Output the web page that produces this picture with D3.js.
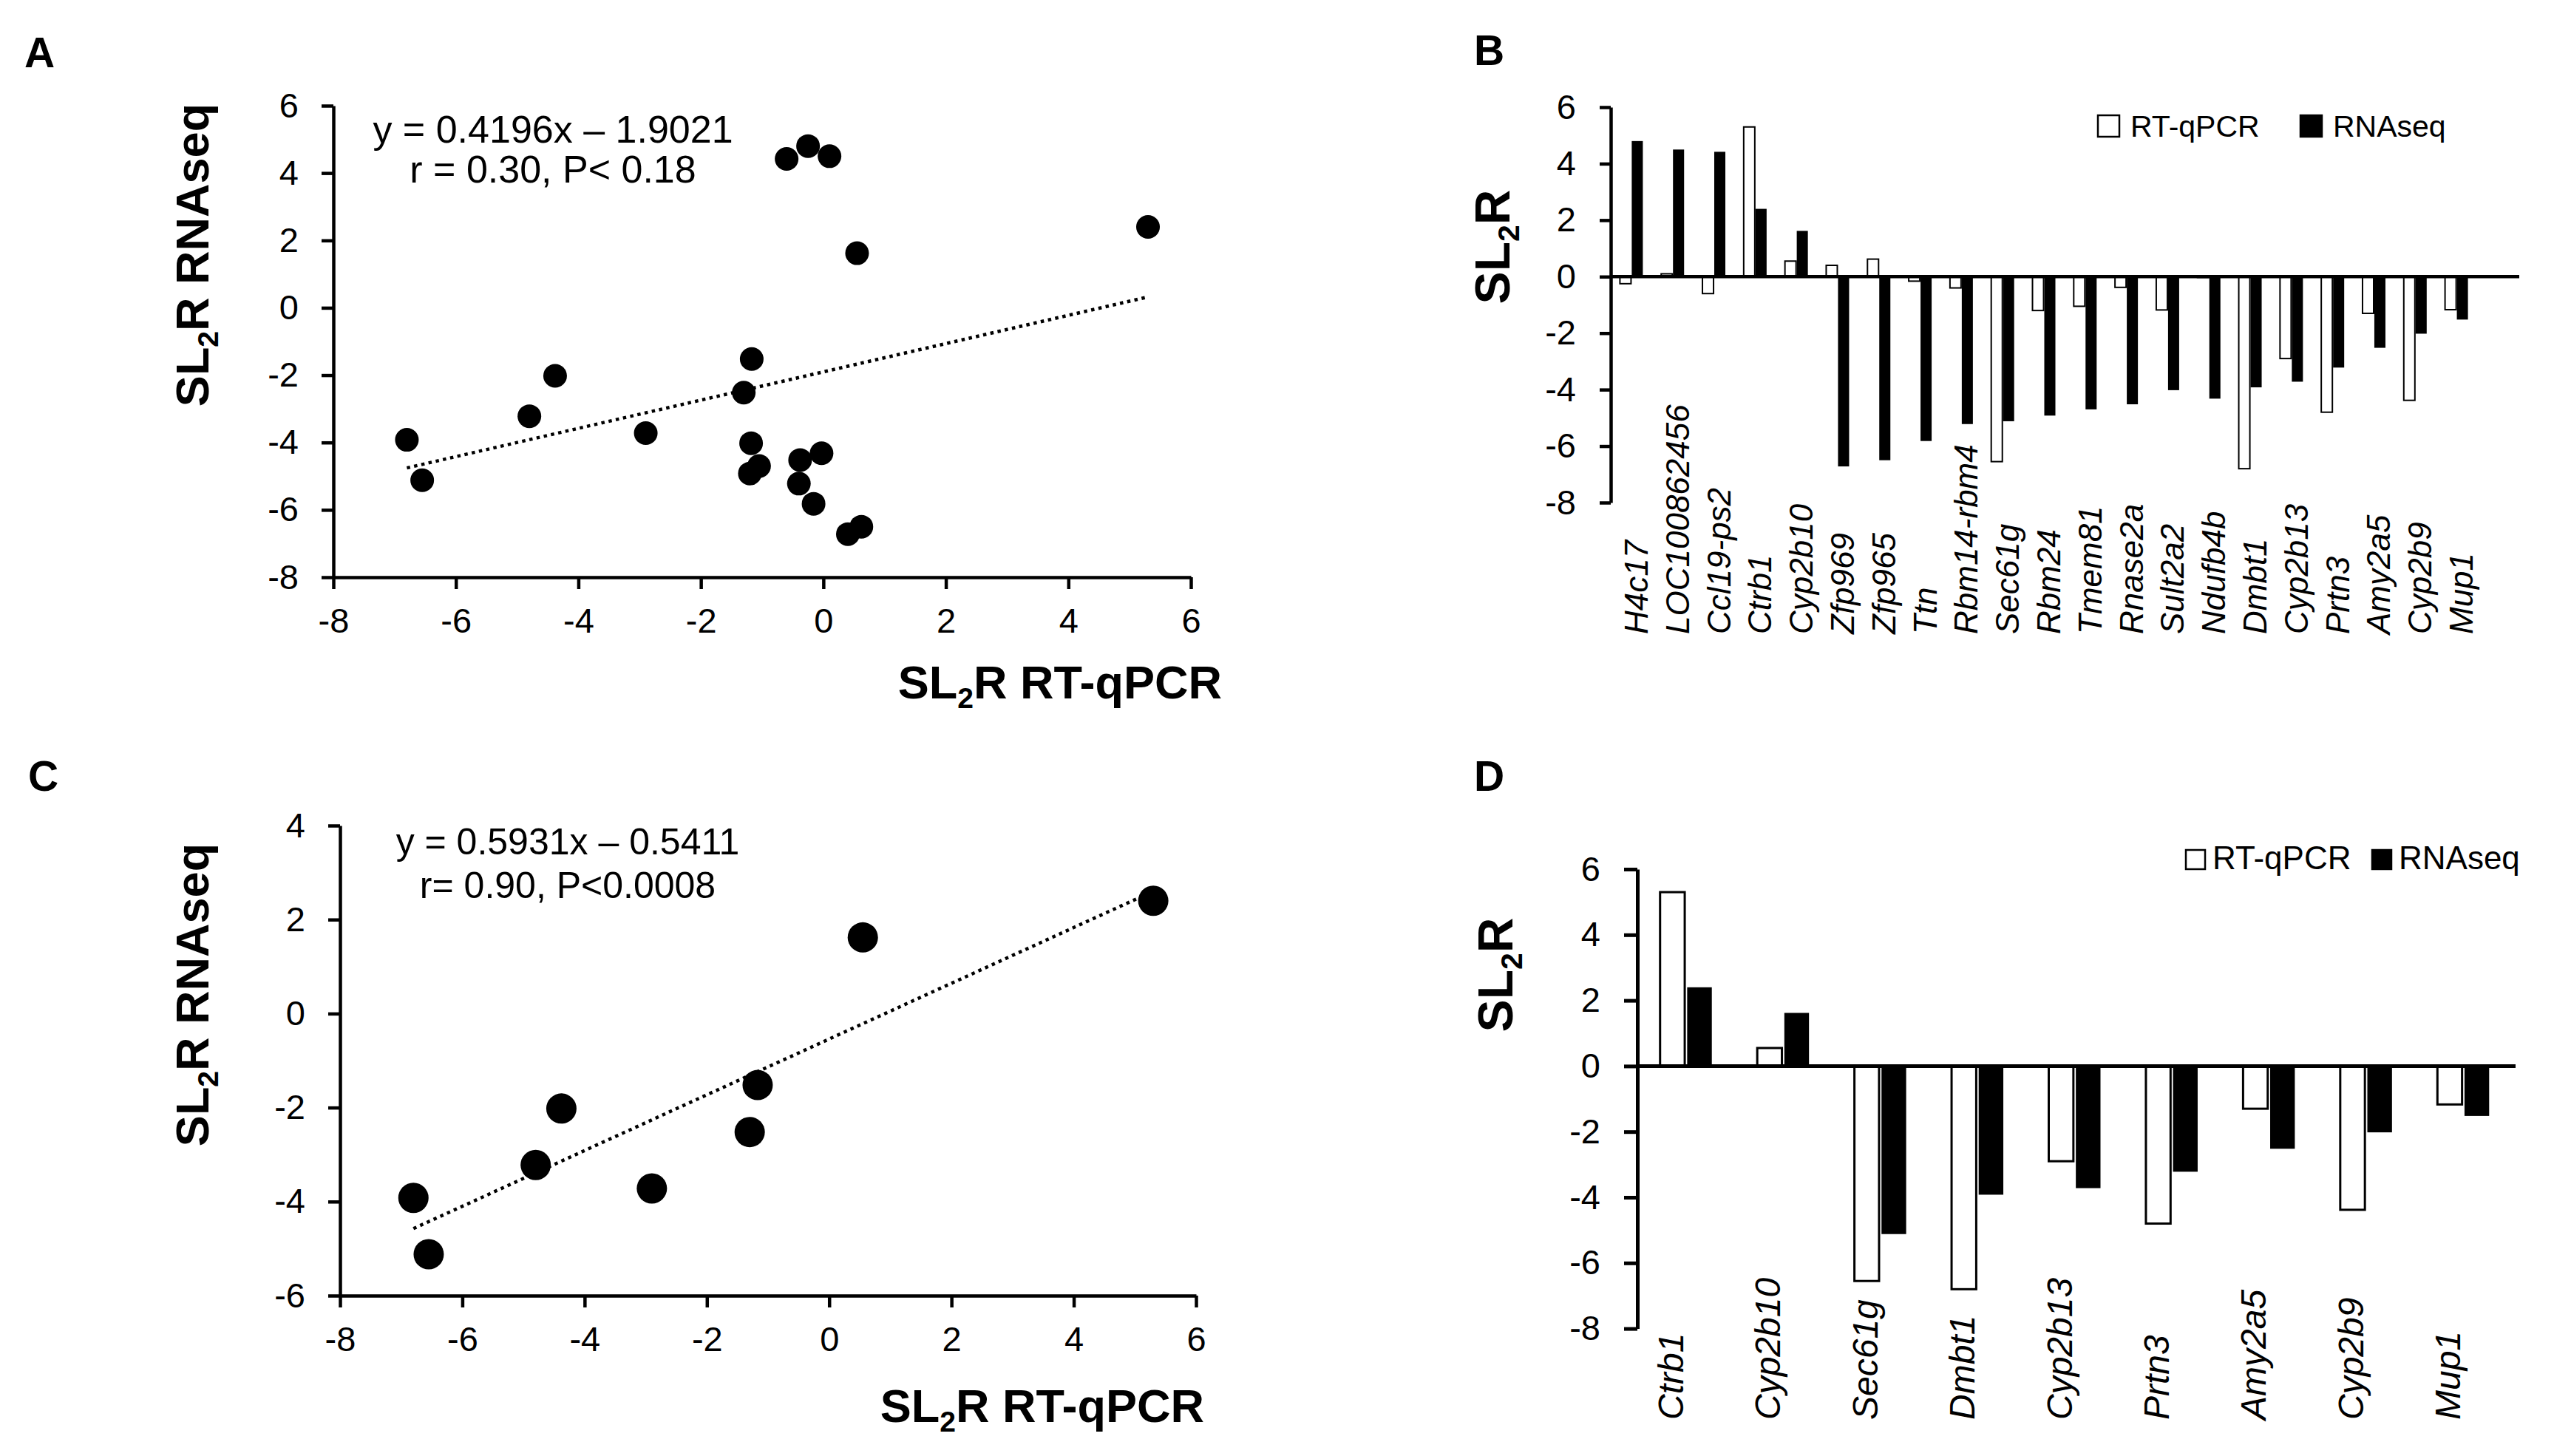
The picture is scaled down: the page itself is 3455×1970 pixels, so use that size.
<!DOCTYPE html>
<html>
<head>
<meta charset="utf-8">
<script src="https://cdn.jsdelivr.net/npm/d3@7"></script>
<style>
  body { margin: 0; background: #fff; }
  text { font-family: "Liberation Sans", Arial, sans-serif; fill: #000; }
</style>
</head>
<body>
<svg id="fig" width="3455" height="1970"></svg>
<script>
// values
const genes = ["H4c17", "LOC100862456", "Ccl19-ps2", "Ctrb1", "Cyp2b10", "Zfp969", "Zfp965", "Ttn",
  "Rbm14-rbm4", "Sec61g", "Rbm24", "Tmem81", "Rnase2a", "Sult2a2", "Ndufb4b", "Dmbt1", "Cyp2b13",
  "Prtn3", "Amy2a5", "Cyp2b9", "Mup1"];
const rtqpcr = [-0.25, 0.1, -0.6, 5.3, 0.55, 0.4, 0.62, -0.16, -0.4, -6.55, -1.2, -1.05, -0.38, -1.18,
  -0.03, -6.8, -2.9, -4.8, -1.3, -4.38, -1.17];
const rnaseq = [4.8, 4.5, 4.42, 2.4, 1.62, -6.72, -6.5, -5.82, -5.22, -5.12, -4.92, -4.7, -4.52, -4.02,
  -4.32, -3.92, -3.72, -3.22, -2.52, -2.02, -1.52];
const genesD = ["Ctrb1", "Cyp2b10", "Sec61g", "Dmbt1", "Cyp2b13", "Prtn3", "Amy2a5", "Cyp2b9", "Mup1"];
const series = ["RT-qPCR", "RNAseq"];
const fitA = { slope: 0.4196, icpt: -1.9021, eq: "y = 0.4196x \u2013 1.9021", stat: "r = 0.30, P< 0.18" };
const fitC = { slope: 0.5931, icpt: -0.5411, eq: "y = 0.5931x \u2013 0.5411", stat: "r= 0.90, P<0.0008" };
const ticksX = [-8, -6, -4, -2, 0, 2, 4, 6];
const ticksYA = [-8, -6, -4, -2, 0, 2, 4, 6];
const ticksYC = [-6, -4, -2, 0, 2, 4];
const ticksBar = [-8, -6, -4, -2, 0, 2, 4, 6];

const svg = d3.select("#fig");
svg.append("rect").attr("width", 3455).attr("height", 1970).attr("fill", "#fff");

const rows = genes.map((g, i) => ({ gene: g, rt: rtqpcr[i], rna: rnaseq[i] }));

function sl2r(g, x, y, size, rest, anchor, rotate) {
  const t = g.append("text")
    .attr("transform", "translate(" + x + "," + y + ")" + (rotate ? " rotate(-90)" : ""))
    .attr("text-anchor", anchor)
    .attr("font-weight", "bold")
    .attr("font-size", size);
  t.append("tspan").text("SL");
  t.append("tspan").attr("font-size", size * 0.62).attr("dy", size * 0.2).text("2");
  t.append("tspan").attr("dy", -size * 0.2).text("R" + rest);
}

function styleAxis(sel, fs, lw) {
  sel.attr("font-size", null).attr("font-family", null);
  sel.selectAll("text").attr("font-size", fs);
  sel.selectAll("line").attr("stroke-width", lw);
  sel.select(".domain").attr("stroke-width", lw);
}

function panelLabel(t, x, y) {
  svg.append("text").attr("x", x).attr("y", y)
    .attr("font-size", 57).attr("font-weight", "bold").text(t);
}

function scatter(o) {
  const g = svg.append("g");
  const x = d3.scaleLinear().domain([-8, 6]).range(o.xr);
  const y = d3.scaleLinear().domain(o.yd).range(o.yr);

  g.append("g").attr("transform", "translate(0," + o.yr[0] + ")")
    .call(d3.axisBottom(x).tickValues(ticksX).tickFormat(String).tickSize(16).tickPadding(26).tickSizeOuter(0))
    .call(s => styleAxis(s, 47, 4.5));
  g.append("g").attr("transform", "translate(" + o.xr[0] + ",0)")
    .call(d3.axisLeft(y).tickValues(o.yt).tickFormat(String).tickSize(16).tickPadding(31).tickSizeOuter(0))
    .call(s => styleAxis(s, 47, 4.5));

  const xs = o.data.map(d => d.rt);
  const x0 = d3.min(xs), x1 = d3.max(xs);
  g.append("line")
    .attr("x1", x(x0)).attr("y1", y(o.fit.slope * x0 + o.fit.icpt))
    .attr("x2", x(x1)).attr("y2", y(o.fit.slope * x1 + o.fit.icpt))
    .attr("stroke", "#000").attr("stroke-width", 4.5).attr("stroke-dasharray", "4.5 5.5");

  g.selectAll("circle").data(o.data).join("circle")
    .attr("cx", d => x(d.rt)).attr("cy", d => y(d.rna)).attr("r", o.r).attr("fill", "#000");

  g.append("text").attr("x", o.eqX).attr("y", o.eqY[0]).attr("text-anchor", "middle")
    .attr("font-size", o.eqFs).text(o.fit.eq);
  g.append("text").attr("x", o.eqX).attr("y", o.eqY[1]).attr("text-anchor", "middle")
    .attr("font-size", o.eqFs).text(o.fit.stat);

  sl2r(g, o.xTitle[0], o.xTitle[1], 63, " RT-qPCR", "end", false);
  sl2r(g, o.yTitle[0], o.yTitle[1], 63, " RNAseq", "middle", true);
}

function bars(o) {
  const g = svg.append("g");
  const x = d3.scaleBand().domain(o.data.map(d => d.gene)).range(o.xr).padding(0);
  const y = d3.scaleLinear().domain([-8, 6]).range(o.yr);
  const xs = d3.scaleBand().domain(series).range([-o.gw / 2, o.gw / 2]).paddingInner(o.gap);

  g.append("g").attr("transform", "translate(" + o.xr[0] + ",0)")
    .call(d3.axisLeft(y).tickValues(ticksBar).tickFormat(String).tickSize(o.tick).tickPadding(32).tickSizeOuter(0))
    .call(s => styleAxis(s, 47, o.lw));

  const grp = g.selectAll("g.grp").data(o.data).join("g").attr("class", "grp")
    .attr("transform", d => "translate(" + (x(d.gene) + x.bandwidth() / 2) + ",0)");
  grp.selectAll("rect")
    .data(d => [{ s: series[0], v: d.rt }, { s: series[1], v: d.rna }])
    .join("rect")
    .attr("x", d => xs(d.s)).attr("width", xs.bandwidth())
    .attr("y", d => y(Math.max(0, d.v))).attr("height", d => Math.abs(y(d.v) - y(0)))
    .attr("fill", d => d.s === series[0] ? "#fff" : "#000")
    .attr("stroke", "#000").attr("stroke-width", d => d.s === series[0] ? o.ow : 0);

  g.append("line").attr("x1", o.xr[0]).attr("x2", o.zeroEnd).attr("y1", y(0)).attr("y2", y(0))
    .attr("stroke", "#000").attr("stroke-width", o.lw);

  g.selectAll("text.gene").data(o.data).join("text").attr("class", "gene")
    .attr("transform", d => "translate(" + (x(d.gene) + x.bandwidth() / 2 + o.labDx) + "," + o.labY + ") rotate(-90)")
    .attr("font-size", o.labFs).attr("font-style", "italic").text(d => d.gene);

  const lg = g.selectAll("g.lg").data(series).join("g").attr("class", "lg")
    .attr("transform", (d, i) => "translate(" + o.leg[i] + "," + o.legY + ")");
  lg.append("rect").attr("x", 0).attr("y", -o.sw).attr("width", o.sw).attr("height", o.sw)
    .attr("fill", (d, i) => i ? "#000" : "#fff").attr("stroke", "#000").attr("stroke-width", 2.5);
  lg.append("text").attr("x", o.sw + o.legGap).attr("y", 0).attr("font-size", o.legFs).text(d => d);

  sl2r(g, o.yTitle[0], o.yTitle[1], 66, "", "middle", true);
}

panelLabel("A", 33, 91);
panelLabel("B", 1994, 88);
panelLabel("C", 38, 1070);
panelLabel("D", 1994, 1070);

scatter({
  data: rows, fit: fitA, xr: [451, 1611], yd: [-8, 6], yr: [781, 143], yt: ticksYA, r: 16,
  eqX: 748, eqY: [193, 247], eqFs: 52, xTitle: [1653, 945], yTitle: [282, 345]
});
scatter({
  data: rows.filter(d => genesD.includes(d.gene)), fit: fitC, xr: [460, 1618], yd: [-6, 4],
  yr: [1753, 1117], yt: ticksYC, r: 20.5,
  eqX: 768, eqY: [1156, 1215], eqFs: 50, xTitle: [1629, 1924], yTitle: [282, 1346]
});
bars({
  data: rows, xr: [2179, 3351], yr: [680, 145], gw: 31, gap: 0.06, ow: 2, lw: 4.5, tick: 15,
  zeroEnd: 3408, labDx: 22, labY: 858, labFs: 44,
  leg: [2838, 3112], legY: 185, sw: 29, legGap: 15, legFs: 41, yTitle: [2042, 334]
});
bars({
  data: genesD.map(g => rows.find(d => d.gene === g)), xr: [2215, 3398], yr: [1797.6, 1176],
  gw: 70, gap: 0.09, ow: 3, lw: 5, tick: 18, zeroEnd: 3403, labDx: -4, labY: 1921, labFs: 48,
  leg: [2957, 3209], legY: 1176, sw: 26, legGap: 10, legFs: 44, yTitle: [2046, 1319]
});
</script>
</body>
</html>
